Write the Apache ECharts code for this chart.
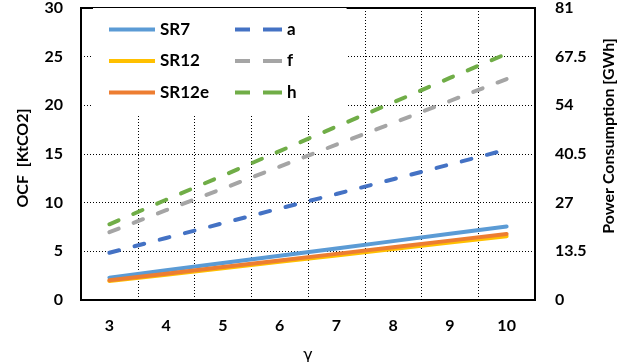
<!DOCTYPE html>
<html>
<head>
<meta charset="utf-8">
<script src="https://cdn.jsdelivr.net/npm/echarts@6/dist/echarts.min.js"></script>
<style>
html,body{margin:0;padding:0;background:#fff;overflow:hidden;width:633px;height:362px;}
#chart{width:633px;height:362px;position:absolute;left:0;top:0;}
</style>
</head>
<body>
<div id="chart"></div>
<script>
// gamma categories
var categories = ['3','4','5','6','7','8','9','10'];
// OCF [KtCO2] (left axis)
var sr7   = [2.3, 3.05, 3.8, 4.55, 5.3, 6.05, 6.8, 7.55];
var sr12  = [1.95, 2.6, 3.26, 3.92, 4.58, 5.24, 5.9, 6.55];
var sr12e = [2.02, 2.7, 3.38, 4.06, 4.74, 5.42, 6.1, 6.78];
// Power Consumption [GWh] (right axis)
var aVals = [13.1, 17.2, 21.3, 25.4, 29.4, 33.5, 37.6, 41.7];
var fVals = [18.8, 24.9, 30.9, 37.0, 43.1, 49.1, 55.2, 61.3];
var hVals = [21.0, 27.8, 34.5, 41.3, 48.1, 54.8, 61.6, 68.3];
// axis ticks
var leftTicks = {min: 0, max: 30, interval: 5};
var rightTicks = {min: 0, max: 81, interval: 13.5};

var FONT = 'Lato';
var chart = echarts.init(document.getElementById('chart'), null, {renderer: 'canvas', width: 633, height: 362});

var SOLID_ICON = 'path://M0,0H46V4H0Z';
var DASH_ICON = 'path://M0,0H15V4H0Z M28,0H47V4H28Z';

function solid(name, data, color) {
  return {
    name: name, type: 'line', yAxisIndex: 0, data: data,
    symbol: 'none', showSymbol: false, animation: false,
    lineStyle: {color: color, width: 4, cap: 'round'},
    itemStyle: {color: color}
  };
}
function dashed(name, data, color) {
  return {
    name: name, type: 'line', yAxisIndex: 1, data: data,
    symbol: 'none', showSymbol: false, animation: false,
    lineStyle: {color: color, width: 4, type: [10, 16], cap: 'round'},
    itemStyle: {color: color}
  };
}

var labelStyle = {fontFamily: FONT, fontWeight: 'bold', fontSize: 16, color: '#000'};
var nameStyle = {fontFamily: FONT, fontWeight: 'bold', fontSize: 16, color: '#000'};
var legendText = {fontFamily: FONT, fontWeight: 'bold', fontSize: 17, color: '#000', lineHeight: 16};

var option = {
  animation: false,
  backgroundColor: '#fff',
  grid: {left: 81, right: 98, top: 8, bottom: 62, containLabel: false, outerBoundsMode: 'none',
         show: true, borderColor: '#000', borderWidth: 2, backgroundColor: 'transparent'},
  legend: [
    {
      data: [
        {name: 'SR7', icon: SOLID_ICON},
        {name: 'SR12', icon: SOLID_ICON},
        {name: 'SR12e', icon: SOLID_ICON}
      ],
      orient: 'vertical', left: 93, top: 8,
      padding: [13, 30, 14, 16],
      backgroundColor: '#fff',
      itemWidth: 46, itemHeight: 4, itemGap: 14.5,
      textStyle: legendText
    },
    {
      data: [
        {name: 'a', icon: DASH_ICON},
        {name: 'f', icon: DASH_ICON},
        {name: 'h', icon: DASH_ICON}
      ],
      orient: 'vertical', left: 235, top: 8,
      padding: [13, 50, 14, 0],
      backgroundColor: '#fff',
      itemWidth: 47, itemHeight: 4, itemGap: 14.5,
      textStyle: legendText
    }
  ],
  xAxis: {
    type: 'category', data: categories, boundaryGap: true,
    name: 'γ', nameLocation: 'middle', nameGap: 48,
    nameTextStyle: {fontFamily: 'DejaVu Sans', fontSize: 16, color: '#000'},
    axisLine: {show: true, lineStyle: {color: '#000', width: 2}},
    axisTick: {show: false},
    axisLabel: Object.assign({margin: 18}, labelStyle),
    splitLine: {show: true, lineStyle: {color: '#000', type: [1, 2], width: 1}}
  },
  yAxis: [
    {
      type: 'value', min: leftTicks.min, max: leftTicks.max, interval: leftTicks.interval,
      position: 'left',
      name: 'OCF  [KtCO2]', nameLocation: 'middle', nameGap: 50, nameRotate: 90,
      nameTextStyle: Object.assign({padding: [0, 8, 0, 0]}, nameStyle),
      axisLine: {show: true, lineStyle: {color: '#000', width: 2}},
      axisTick: {show: false},
      axisLabel: Object.assign({margin: 18}, labelStyle),
      splitLine: {show: true, lineStyle: {color: '#000', type: [1, 2], width: 1}}
    },
    {
      type: 'value', min: rightTicks.min, max: rightTicks.max, interval: rightTicks.interval,
      position: 'right',
      name: 'Power Consumption [GWh]', nameLocation: 'middle', nameGap: 66, nameRotate: 90,
      nameTextStyle: Object.assign({padding: [0, 0, 0, 36]}, nameStyle),
      axisLine: {show: true, lineStyle: {color: '#000', width: 2}},
      axisTick: {show: false},
      axisLabel: Object.assign({margin: 20}, labelStyle),
      splitLine: {show: false}
    }
  ],
  series: [
    dashed('a', aVals, '#4472C4'),
    dashed('f', fVals, '#A5A5A5'),
    dashed('h', hVals, '#70AD47'),
    solid('SR7', sr7, '#5B9BD5'),
    solid('SR12', sr12, '#FFC000'),
    solid('SR12e', sr12e, '#ED7D31')
  ]
};
chart.setOption(option);
</script>
</body>
</html>
